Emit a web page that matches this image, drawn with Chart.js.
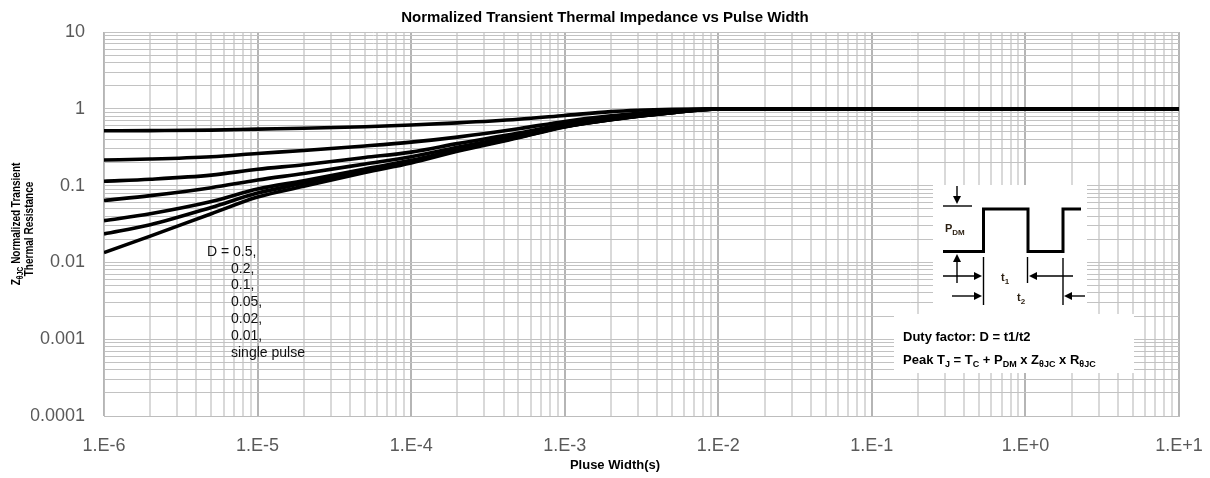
<!DOCTYPE html>
<html>
<head>
<meta charset="utf-8">
<script src="https://cdn.jsdelivr.net/npm/chart.js@4.4.1/dist/chart.umd.min.js"></script>
<style>
  html, body { margin: 0; padding: 0; background: #fff; }
  #wrap { width: 1210px; height: 478px; }
</style>
</head>
<body>
<div id="wrap"><canvas id="chart" width="1210" height="478"></canvas></div>
<script>
// pulse width (s) and normalized Zth for each duty cycle
const pulseWidth = [1e-6, 2e-6, 5e-6, 1e-5, 2e-5, 5e-5, 1e-4, 2e-4, 5e-4, 1e-3, 2e-3, 5e-3, 1e-2, 10];
const zthD05    = [0.517, 0.520, 0.527, 0.543, 0.558, 0.585, 0.615, 0.655, 0.730, 0.820, 0.920, 0.985, 1.0, 1.0];
const zthD02    = [0.215, 0.222, 0.238, 0.262, 0.287, 0.328, 0.368, 0.428, 0.550, 0.685, 0.810, 0.940, 0.997, 1.0];
const zthD01    = [0.114, 0.121, 0.137, 0.163, 0.187, 0.232, 0.273, 0.352, 0.482, 0.632, 0.765, 0.915, 0.995, 1.0];
const zthD005   = [0.064, 0.074, 0.094, 0.118, 0.144, 0.191, 0.237, 0.316, 0.449, 0.601, 0.734, 0.896, 0.995, 1.0];
const zthD002   = [0.035, 0.043, 0.062, 0.090, 0.116, 0.165, 0.213, 0.294, 0.432, 0.588, 0.726, 0.892, 0.995, 1.0];
const zthD001   = [0.0235, 0.031, 0.052, 0.080, 0.107, 0.157, 0.205, 0.287, 0.426, 0.584, 0.723, 0.891, 0.995, 1.0];
const zthSingle = [0.0134, 0.022, 0.043, 0.071, 0.098, 0.148, 0.197, 0.280, 0.420, 0.580, 0.720, 0.890, 0.995, 1.0];

const xDecades = [1e-6, 1e-5, 1e-4, 1e-3, 1e-2, 1e-1, 1, 10];
const xTickLabels = ['1.E-6', '1.E-5', '1.E-4', '1.E-3', '1.E-2', '1.E-1', '1.E+0', '1.E+1'];
const yDecades = [1e-4, 1e-3, 1e-2, 1e-1, 1, 10];
const yTickLabels = ['0.0001', '0.001', '0.01', '0.1', '1', '10'];
const dutyLabels = ['D = 0.5,', '0.2,', '0.1,', '0.05,', '0.02,', '0.01,', 'single pulse'];

const FONT = '"Liberation Sans", Arial, sans-serif';

function isDecade(v) {
  const l = Math.log10(v);
  return Math.abs(l - Math.round(l)) < 1e-6;
}

// 1..9 x 10^n ticks so every log minor gets a grid line
function logTicks(min, max) {
  const out = [];
  for (let e = Math.round(Math.log10(min)); e <= Math.round(Math.log10(max)); e++) {
    for (let m = 1; m <= 9; m++) {
      const v = parseFloat((m * Math.pow(10, e)).toPrecision(4));
      if (v >= min * 0.999 && v <= max * 1.001) out.push({ value: v });
    }
  }
  return out;
}

function labelFor(decades, labels, v) {
  if (!isDecade(v)) return '';
  const i = decades.findIndex(d => Math.abs(Math.log10(d) - Math.log10(v)) < 1e-6);
  return i >= 0 ? labels[i] : '';
}

function series(vals) {
  return {
    data: pulseWidth.map((x, i) => ({ x: x, y: vals[i] })),
    borderColor: '#000',
    borderWidth: 3.6,
    pointRadius: 0,
    fill: false,
    cubicInterpolationMode: 'monotone'
  };
}

// text with subscripts, parts = [[text, isSub], ...]
function rich(ctx, parts, x, y, size, subSize, measureOnly) {
  let cx = x;
  for (const [t, sub] of parts) {
    ctx.font = 'bold ' + (sub ? subSize : size) + 'px ' + FONT;
    if (!measureOnly) ctx.fillText(t, cx, sub ? y + size * 0.28 : y);
    cx += ctx.measureText(t).width;
  }
  return cx - x;
}

function arrow(ctx, x1, y1, x2, y2) {
  const a = Math.atan2(y2 - y1, x2 - x1);
  const hl = 8, hw = 4;
  ctx.beginPath();
  ctx.moveTo(x1, y1);
  ctx.lineTo(x2 - Math.cos(a) * hl * 0.8, y2 - Math.sin(a) * hl * 0.8);
  ctx.stroke();
  ctx.beginPath();
  ctx.moveTo(x2, y2);
  ctx.lineTo(x2 - Math.cos(a) * hl - Math.sin(a) * hw, y2 - Math.sin(a) * hl + Math.cos(a) * hw);
  ctx.lineTo(x2 - Math.cos(a) * hl + Math.sin(a) * hw, y2 - Math.sin(a) * hl - Math.cos(a) * hw);
  ctx.closePath();
  ctx.fill();
}

function line(ctx, pts) {
  ctx.beginPath();
  ctx.moveTo(pts[0][0], pts[0][1]);
  for (let i = 1; i < pts.length; i++) ctx.lineTo(pts[i][0], pts[i][1]);
  ctx.stroke();
}

const annotate = {
  id: 'annotate',
  afterDraw(chart) {
    const ctx = chart.ctx;
    ctx.save();
    ctx.fillStyle = '#000';

    // x axis title
    ctx.font = 'bold 13px ' + FONT;
    ctx.textAlign = 'center';
    ctx.textBaseline = 'middle';
    ctx.fillText('Pluse Width(s)', 615, 465);

    // y axis title (two rotated lines, squeezed along the text like the original)
    ctx.textAlign = 'left';
    ctx.textBaseline = 'alphabetic';
    const l1 = [['Z', false], ['\u03B8JC', true], [' Normalized Transient', false]];
    ctx.save();
    ctx.translate(19.5, 224);
    ctx.rotate(-Math.PI / 2);
    ctx.scale(0.77, 1);
    const w1 = rich(ctx, l1, 0, 0, 13, 9, true);
    rich(ctx, l1, -w1 / 2, 0, 13, 9);
    ctx.restore();
    ctx.save();
    ctx.translate(33, 229);
    ctx.rotate(-Math.PI / 2);
    ctx.scale(0.77, 1);
    ctx.font = 'bold 13px ' + FONT;
    ctx.textAlign = 'center';
    ctx.fillText('Thermal Resistance', 0, 0);
    ctx.restore();

    // duty cycle list
    ctx.font = '14px ' + FONT;
    ctx.textAlign = 'left';
    ctx.textBaseline = 'middle';
    ctx.fillStyle = '#111';
    dutyLabels.forEach((t, i) => {
      ctx.fillText(t, i === 0 ? 207 : 231, 252 + i * 16.8);
    });

    // inset: pulse train sketch and formulas
    ctx.fillStyle = '#fff';
    ctx.fillRect(933, 185, 154, 129);
    ctx.fillRect(894, 314, 240, 59);

    ctx.strokeStyle = '#000';
    ctx.fillStyle = '#000';
    ctx.lineWidth = 3;
    ctx.lineJoin = 'miter';
    line(ctx, [[943, 251.5], [983.5, 251.5], [983.5, 209], [1028, 209], [1028, 251.5],
               [1063, 251.5], [1063, 209], [1081, 209]]);

    ctx.lineWidth = 1.4;
    line(ctx, [[943, 206], [972, 206]]);
    line(ctx, [[983.5, 257], [983.5, 305]]);
    line(ctx, [[1027.5, 257], [1027.5, 283]]);
    line(ctx, [[1063, 258], [1063, 305]]);
    arrow(ctx, 957, 186, 957, 204);
    arrow(ctx, 957, 283, 957, 254);
    arrow(ctx, 943, 276, 982, 276);
    arrow(ctx, 1073, 276, 1029, 276);
    arrow(ctx, 952, 296, 982, 296);
    arrow(ctx, 1085, 296, 1064, 296);

    ctx.textBaseline = 'alphabetic';
    ctx.fillStyle = '#2a1e10';
    rich(ctx, [['P', false], ['DM', true]], 945, 232, 11, 8);
    rich(ctx, [['t', false], ['1', true]], 1001, 281, 11, 8);
    rich(ctx, [['t', false], ['2', true]], 1017, 301, 11, 8);

    ctx.fillStyle = '#000';
    rich(ctx, [['Duty factor: D = t1/t2', false]], 903, 340.5, 13, 9);
    rich(ctx, [['Peak T', false], ['J', true], [' = T', false], ['C', true], [' + P', false], ['DM', true],
               [' x Z', false], ['\u03B8JC', true], [' x R', false], ['\u03B8JC', true]], 903, 363.5, 13, 9);
    ctx.restore();
  }
};

const gridX = ctx => (ctx.tick && isDecade(ctx.tick.value)) ? '#b5b5b5' : '#d9d9d9';

new Chart(document.getElementById('chart'), {
  type: 'line',
  data: {
    datasets: [series(zthD05), series(zthD02), series(zthD01), series(zthD005),
               series(zthD002), series(zthD001), series(zthSingle)]
  },
  options: {
    responsive: false,
    animation: false,
    devicePixelRatio: 1,
    layout: { padding: { top: 0, right: 31, bottom: 0, left: 31 } },
    plugins: {
      legend: { display: false },
      tooltip: { enabled: false },
      title: {
        display: true,
        text: 'Normalized Transient Thermal Impedance vs Pulse Width',
        color: '#000',
        font: { family: FONT, size: 15, weight: 'bold' },
        padding: { top: 9, bottom: 5 }
      }
    },
    scales: {
      x: {
        type: 'logarithmic',
        min: 1e-6,
        max: 10,
        afterBuildTicks: s => { s.ticks = logTicks(1e-6, 10); },
        afterFit: s => { s.height = 62; },
        border: { display: true, color: '#bdbdbd', width: 1 },
        grid: { color: gridX, lineWidth: 2, drawTicks: true, tickLength: 13, tickColor: 'rgba(0,0,0,0)' },
        ticks: {
          autoSkip: false,
          maxRotation: 0,
          minRotation: 0,
          padding: 6,
          color: '#595959',
          font: { family: FONT, size: 18 },
          callback: v => labelFor(xDecades, xTickLabels, v)
        }
      },
      y: {
        type: 'logarithmic',
        min: 1e-4,
        max: 10,
        afterBuildTicks: s => { s.ticks = logTicks(1e-4, 10); },
        afterFit: s => { s.width = 73; },
        border: { display: true, color: '#bdbdbd', width: 1 },
        grid: { color: '#c2c2c2', lineWidth: 1, drawTicks: false },
        ticks: {
          autoSkip: false,
          padding: 19,
          color: '#595959',
          font: { family: FONT, size: 18 },
          callback: v => labelFor(yDecades, yTickLabels, v)
        }
      }
    }
  },
  plugins: [annotate]
});
</script>
</body>
</html>
